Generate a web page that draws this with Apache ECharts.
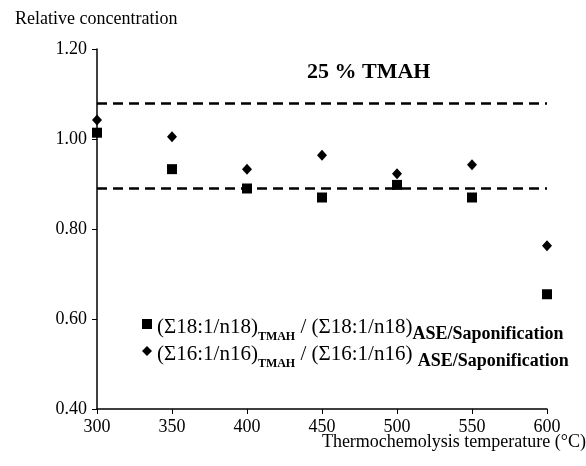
<!DOCTYPE html>
<html>
<head>
<meta charset="utf-8">
<script src="https://cdn.jsdelivr.net/npm/echarts@6/dist/echarts.min.js"></script>
<style>
  html, body { margin: 0; padding: 0; background: #fff; }
  #chart { width: 586px; height: 466px; }
</style>
</head>
<body>
<div id="chart"></div>
<script>
const temperatures = [300, 350, 400, 450, 500, 550, 600];
const ratio18 = [1.014, 0.933, 0.890, 0.870, 0.898, 0.870, 0.655];
const ratio16 = [1.042, 1.005, 0.933, 0.964, 0.923, 0.943, 0.763];
const limitLines = [1.08, 0.89];
const serif = "'Liberation Serif', 'DejaVu Serif', serif";

const chart = echarts.init(document.getElementById('chart'));

const toPairs = (vals) => temperatures.map((t, i) => [t, vals[i]]);

// legend text with bold subscripts
const subRich = {
  n: { fontFamily: serif, fontSize: 21, color: '#000', lineHeight: 28, verticalAlign: 'bottom' },
  t: { fontFamily: serif, fontSize: 12, fontWeight: 'bold', color: '#000', lineHeight: 28, verticalAlign: 'bottom', padding: [0, 0, -5, 0] },
  s: { fontFamily: serif, fontSize: 18, fontWeight: 'bold', color: '#000', lineHeight: 28, verticalAlign: 'bottom', padding: [0, 0, -5, 0] }
};

const option = {
  backgroundColor: '#fff',
  animation: false,
  title: [
    {
      text: '25 % TMAH',
      left: 302, top: 56,
      textStyle: { fontFamily: serif, fontSize: 22, fontWeight: 'bold', color: '#000' }
    },
    {
      text: 'Relative concentration',
      left: 10, top: 5,
      textStyle: { fontFamily: serif, fontSize: 18, fontWeight: 'normal', color: '#000' }
    },
    {
      text: 'Thermochemolysis temperature (°C)',
      right: 0, top: 433, padding: 0,
      textStyle: { fontFamily: serif, fontSize: 18, fontWeight: 'normal', color: '#000' }
    }
  ],
  legend: {
    orient: 'vertical',
    left: 137, top: 312,
    itemWidth: 10, itemHeight: 10,
    itemGap: 1,
    data: [
      { name: 's18', icon: 'rect' },
      { name: 's16', icon: 'diamond' }
    ],
    formatter: (name) => name === 's18'
      ? '{n|(Σ18:1/n18)}{t|TMAH}{n| / (Σ18:1/n18)}{s|ASE/Saponification}'
      : '{n|(Σ16:1/n16)}{t|TMAH}{n| / (Σ16:1/n16) }{s|ASE/Saponification}',
    textStyle: { rich: subRich }
  },
  grid: { left: 97, right: 39, top: 49, bottom: 57, outerBoundsMode: 'none', containLabel: false },
  xAxis: {
    type: 'value',
    min: 300, max: 600, interval: 50,
    axisLine: { lineStyle: { color: '#000', width: 1.5 } },
    axisTick: { length: 5, lineStyle: { color: '#000' } },
    axisLabel: { fontFamily: serif, fontSize: 18, color: '#000', margin: 9 },
    splitLine: { show: false }
  },
  yAxis: {
    type: 'value',
    min: 0.4, max: 1.2, interval: 0.2,
    axisLine: { show: true, lineStyle: { color: '#000', width: 1.5 } },
    axisTick: { show: true, length: 5, lineStyle: { color: '#000' } },
    axisLabel: { fontFamily: serif, fontSize: 18, color: '#000', margin: 10, formatter: (v) => v.toFixed(2) },
    splitLine: { show: false }
  },
  series: [
    {
      name: 's18',
      type: 'scatter',
      symbol: 'rect',
      symbolSize: 10,
      itemStyle: { color: '#000', opacity: 1 },
      data: toPairs(ratio18),
      markLine: {
        silent: true,
        symbol: 'none',
        label: { show: false },
        lineStyle: { color: '#000', width: 2.5, type: [10, 6], opacity: 1 },
        data: limitLines.map(v => ({ yAxis: v }))
      },
      z: 3
    },
    {
      name: 's16',
      type: 'scatter',
      symbol: 'diamond',
      symbolSize: [10, 11],
      itemStyle: { color: '#000', opacity: 1 },
      data: toPairs(ratio16),
      z: 3
    }
  ]
};

chart.setOption(option);
</script>
</body>
</html>
